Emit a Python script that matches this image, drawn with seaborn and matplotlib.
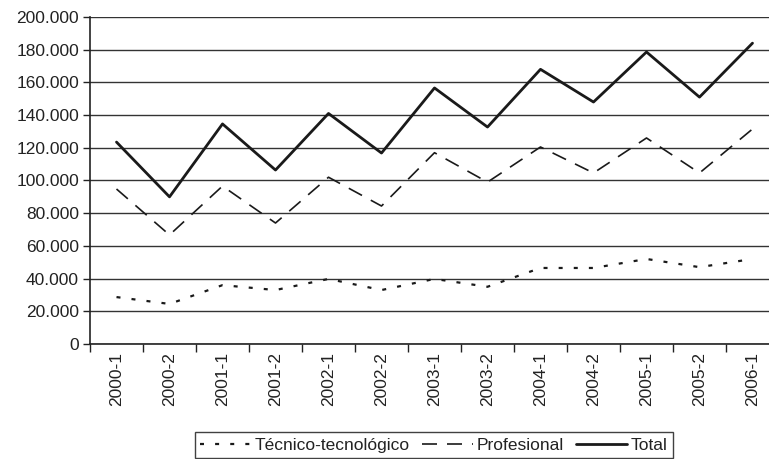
import matplotlib
matplotlib.use("Agg")
import matplotlib.pyplot as plt
import seaborn as sns
import pandas as pd
from matplotlib.ticker import FuncFormatter, MultipleLocator

periods = ["2000-1", "2000-2", "2001-1", "2001-2", "2002-1", "2002-2", "2003-1",
           "2003-2", "2004-1", "2004-2", "2005-1", "2005-2", "2006-1"]
tecnico = [28700, 24500, 36000, 33000, 39800, 33000, 39800, 35000, 46500, 46500, 52000, 47000, 52000]
profesional = [94800, 66700, 96600, 74000, 102000, 84400, 117000, 99000, 120500, 104600, 126000, 104600, 131500]
total = [123500, 90000, 134600, 106400, 141000, 116800, 156600, 132700, 168000, 148000, 178600, 151000, 184000]
series_names = ["Técnico-tecnológico", "Profesional", "Total"]

sns.set_theme(style="white")
plt.rcParams["font.family"] = ["Liberation Sans", "DejaVu Sans"]

df = pd.DataFrame({
    "pos": list(range(len(periods))) * 3,
    "valor": tecnico + profesional + total,
    "serie": [series_names[0]] * len(periods) + [series_names[1]] * len(periods) + [series_names[2]] * len(periods),
})

fig = plt.figure(figsize=(7.69, 4.59), dpi=100)
W, H = 769, 459
ax = fig.add_axes([90 / W, (H - 344) / H, 689 / W, 327 / H])

styles = {
    series_names[0]: dict(lw=1.6, dashes=(1.8, 5.0)),
    series_names[1]: dict(lw=1.2, dashes=(9, 6)),
    series_names[2]: dict(lw=2.0, dashes=()),
}
col = "#1a1a1a"
for name in series_names:
    sub = df[df["serie"] == name]
    st = styles[name]
    line_kw = {"linewidth": st["lw"]}
    if st["dashes"]:
        line_kw["dashes"] = st["dashes"]
    sns.lineplot(data=sub, x="pos", y="valor", ax=ax, color=col, label=name,
                 legend=False, **line_kw)

ax.set_xlim(-0.5, len(periods) - 0.5)
ax.set_ylim(0, 200000)
ax.yaxis.set_major_locator(MultipleLocator(20000))
ax.yaxis.set_major_formatter(FuncFormatter(lambda v, p: f"{int(v):,}".replace(",", ".")))
ax.set_xticks(range(len(periods)))
ax.set_xticklabels(periods, rotation=90, fontsize=12.5, color="#222222")
ax.set_xticks([i - 0.5 for i in range(len(periods) + 1)], minor=True)
ax.tick_params(axis="x", which="major", length=0, pad=6)
ax.tick_params(axis="x", which="minor", length=6, width=1, color="#222222", direction="out", bottom=True)
ax.tick_params(axis="y", length=5, width=1, color="#222222", direction="out", left=True, labelsize=12.5, labelcolor="#222222", pad=3)
ax.set_xlabel("")
ax.set_ylabel("")

ax.grid(axis="y", color="#333333", linewidth=1.0)
ax.grid(axis="x", visible=False)
for s in ["top", "right"]:
    ax.spines[s].set_visible(False)
ax.spines["left"].set_color("#222222")
ax.spines["bottom"].set_color("#222222")
ax.spines["left"].set_linewidth(1.2)
ax.spines["bottom"].set_linewidth(1.2)
ax.axhline(200000, color="#aaaaaa", linewidth=1.2, zorder=0)

handles, labels = ax.get_legend_handles_labels()
leg = fig.legend(handles, labels, loc="lower left", bbox_to_anchor=(195 / W, 1 / H),
                 ncol=3, frameon=True, fancybox=False, fontsize=12.5,
                 handlelength=2.9, handletextpad=0.25, columnspacing=0.7,
                 borderpad=0.3, borderaxespad=0)
leg.get_frame().set_edgecolor("#111111")
leg.get_frame().set_linewidth(1.0)
for t in leg.get_texts():
    t.set_color("#222222")

fig.savefig("out.png", dpi=100)
